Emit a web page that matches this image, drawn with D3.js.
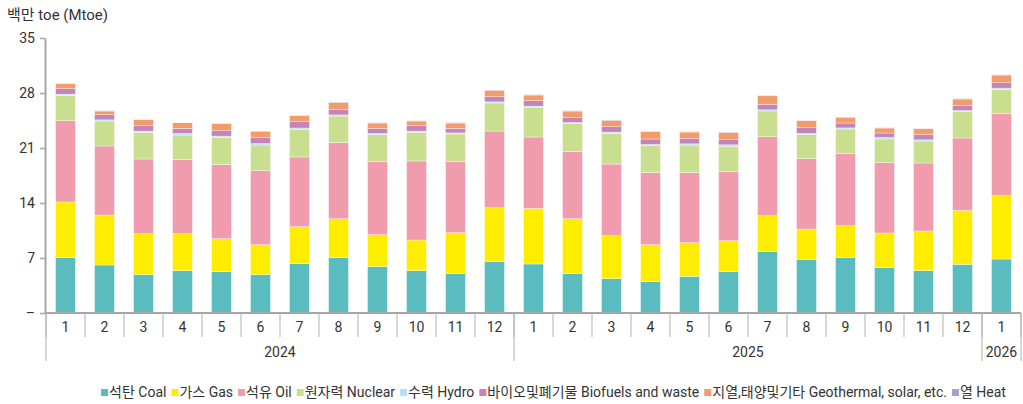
<!DOCTYPE html>
<html>
<head>
<meta charset="utf-8">
<script src="https://cdn.jsdelivr.net/npm/d3@7"></script>
<style>
  body { margin: 0; background: #fff; }
  svg text { font-family: Roboto, "Noto Sans CJK KR", sans-serif; fill: #333; }
</style>
</head>
<body>
<svg></svg>
<script>
const width = 1023, height = 404

// months and year groups
const months = ["1","2","3","4","5","6","7","8","9","10","11","12",
                "1","2","3","4","5","6","7","8","9","10","11","12","1"]
const years = [["2024", 12], ["2025", 12], ["2026", 1]]

// Mtoe per month
const coal    = [7.04,6.11,4.88,5.39,5.26,4.88,6.28,7.04,5.90,5.39,5.05,6.58,6.24,5.00,4.37,3.99,4.67,5.30,7.85,6.83,7.09,5.77,5.39,6.20,6.87]
const gas     = [7.09,6.36,5.22,4.71,4.20,3.82,4.71,4.96,4.07,3.90,5.17,6.82,7.08,7.00,5.47,4.71,4.28,3.90,4.54,3.86,4.02,4.41,5.05,6.87,8.06]
const oil     = [10.35,8.78,9.50,9.41,9.42,9.41,8.87,9.68,9.29,10.06,9.04,9.76,9.08,8.58,9.12,9.16,8.91,8.79,10.05,8.95,9.17,8.95,8.65,9.20,10.44]
const nuclear = [3.22,3.19,3.40,3.14,3.48,3.27,3.52,3.39,3.44,3.65,3.52,3.57,3.78,3.52,3.91,3.44,3.52,3.22,3.27,3.06,3.14,3.02,2.80,3.35,3.10]
const hydro   = [0.15,0.14,0.15,0.20,0.15,0.18,0.16,0.14,0.14,0.15,0.14,0.14,0.15,0.14,0.15,0.15,0.15,0.20,0.15,0.16,0.14,0.20,0.15,0.14,0.15]
const bio     = [0.70,0.66,0.69,0.65,0.69,0.75,0.81,0.67,0.62,0.69,0.58,0.66,0.69,0.62,0.69,0.70,0.66,0.65,0.70,0.73,0.62,0.56,0.66,0.67,0.69]
const geo     = [0.63,0.46,0.76,0.72,0.89,0.80,0.76,0.92,0.71,0.59,0.67,0.80,0.72,0.84,0.80,0.92,0.84,0.89,1.09,0.88,0.72,0.63,0.75,0.80,0.97]
const heat    = [0.05,0.05,0.05,0.05,0.05,0.05,0.05,0.05,0.05,0.05,0.05,0.05,0.05,0.05,0.05,0.05,0.05,0.05,0.05,0.05,0.05,0.05,0.05,0.05,0.05]

const seriesNames = ["석탄 Coal","가스 Gas","석유 Oil","원자력 Nuclear","수력 Hydro",
                     "바이오및폐기물 Biofuels and waste","지열,태양및기타 Geothermal, solar, etc.","열 Heat"]
const seriesValues = [coal, gas, oil, nuclear, hydro, bio, geo, heat]
const colors = ["#5bbcc0","#ffed00","#f09bae","#c9df8f","#b5dff5","#c385b9","#f39b6b","#ac9fca"]
const yTicks = [0, 7, 14, 21, 28, 35]

var svg = d3.select("svg")
    .attr("width", width)
    .attr("height", height);

const rows = months.map((m, i) => {
    const r = { i: i }
    seriesNames.forEach((s, k) => r[s] = seriesValues[k][i])
    return r
})
const stacked = d3.stack().keys(seriesNames)(rows)

const x = d3.scaleBand()
    .domain(d3.range(months.length))
    .range([46, 1021])
    .paddingInner(0.49)
    .paddingOuter(0.245);

const y = d3.scaleLinear()
    .domain([0, 35])
    .range([313, 38]);

// bars
svg.append("g").selectAll("g")
    .data(stacked)
    .enter()
    .append("g")
    .attr("fill", (d, k) => colors[k])
    .selectAll("rect")
    .data(d => d)
    .enter()
    .append("rect")
    .attr("x", d => x(d.data.i))
    .attr("width", x.bandwidth())
    .attr("y", d => y(d[1]))
    .attr("height", d => y(d[0]) - y(d[1]))
    .attr("stroke", "#fff")
    .attr("stroke-opacity", 0.6)
    .attr("stroke-width", 0.6);

// y axis
const yAxis = svg.append("g")
    .attr("transform", "translate(45,0)")
    .call(d3.axisLeft(y).tickValues(yTicks).tickSize(5).tickSizeOuter(0)
        .tickFormat(d => d === 0 ? "–" : d));
yAxis.select(".domain").attr("stroke", "#a6a6a6").attr("stroke-width", 2);
yAxis.selectAll(".tick line").attr("stroke", "#a6a6a6").attr("stroke-width", 1.5);
yAxis.selectAll(".tick text").attr("font-size", 14).attr("x", -10).style("fill", "#333");

svg.append("text")
    .attr("x", 7).attr("y", 20)
    .attr("font-size", 15)
    .text("백만 toe (Mtoe)");

// x axis: months
const step = x.step()
const x0 = 46
svg.append("line")
    .attr("x1", 45).attr("x2", 1021)
    .attr("y1", 313).attr("y2", 313)
    .attr("stroke", "#a6a6a6").attr("stroke-width", 2);

svg.append("g").selectAll("line")
    .data(d3.range(months.length + 1))
    .enter()
    .append("line")
    .attr("x1", i => x0 + i * step).attr("x2", i => x0 + i * step)
    .attr("y1", 313).attr("y2", 337)
    .attr("stroke", "#b0b0b0").attr("stroke-width", 1);

svg.append("g").selectAll("text")
    .data(months)
    .enter()
    .append("text")
    .attr("x", (d, i) => x(i) + x.bandwidth() / 2)
    .attr("y", 332)
    .attr("text-anchor", "middle")
    .attr("font-size", 14)
    .text(d => d);

// year groups
let start = 0
const yearPos = years.map(([yr, n]) => {
    const p = { yr: yr, a: start, b: start + n }
    start += n
    return p
})
const bounds = [0].concat(yearPos.map(p => p.b))
svg.append("g").selectAll("line")
    .data(bounds)
    .enter()
    .append("line")
    .attr("x1", b => x0 + b * step).attr("x2", b => x0 + b * step)
    .attr("y1", 313).attr("y2", 361)
    .attr("stroke", "#b0b0b0").attr("stroke-width", 1);

svg.append("g").selectAll("text")
    .data(yearPos)
    .enter()
    .append("text")
    .attr("x", p => x0 + (p.a + p.b) / 2 * step)
    .attr("y", 357)
    .attr("text-anchor", "middle")
    .attr("font-size", 14)
    .text(p => p.yr);

// legend
const legend = svg.append("g")
const items = legend.selectAll("g")
    .data(seriesNames)
    .enter()
    .append("g")
items.append("rect")
    .attr("width", 7).attr("height", 7)
    .attr("y", -8)
    .attr("fill", (d, k) => colors[k]);
items.append("text")
    .attr("x", 8)
    .attr("font-size", 14)
    .text(d => d);
let lx = 0
items.each(function () {
    const g = d3.select(this)
    g.attr("transform", `translate(${lx},0)`)
    lx += 8 + g.select("text").node().getComputedTextLength() + 5
})
const total = lx - 5
legend.attr("transform", `translate(${(92 + 1015) / 2 - total / 2},397)`);
</script>
</body>
</html>
